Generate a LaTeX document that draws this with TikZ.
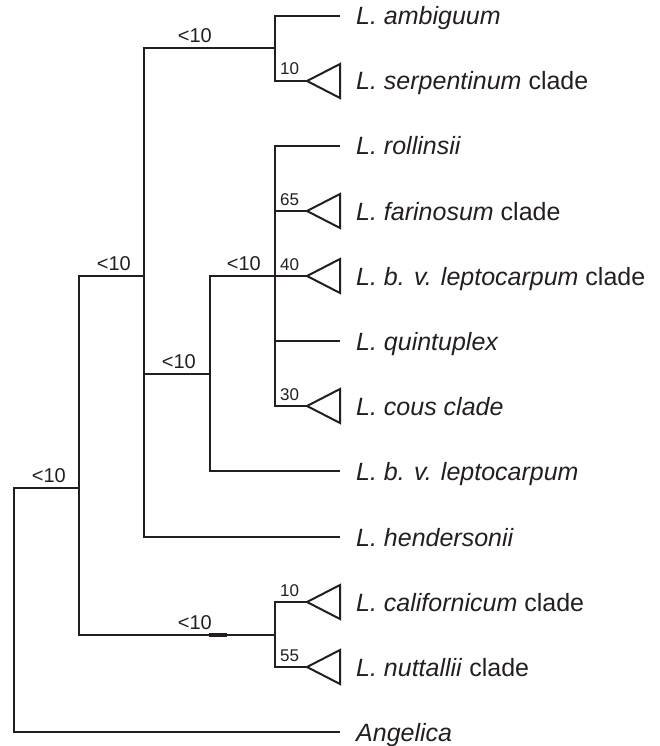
\documentclass[tikz,border=0pt]{standalone}
\usepackage{fontspec}
\setmainfont{Liberation Sans}
\definecolor{ink}{RGB}{35,31,32}
\begin{document}
\begin{tikzpicture}[x=1pt,y=-1pt,
  branch/.style={draw=ink,line width=1.8pt,line join=miter},
  clade/.style={draw=ink,line width=2pt,line join=miter},
  taxon/.style={anchor=base west,inner sep=0pt,text=ink,font=\fontsize{25}{30}\selectfont},
  boot/.style={anchor=base west,inner sep=0pt,text=ink,font=\fontsize{17}{20}\selectfont},
  lowboot/.style={anchor=base east,inner sep=0pt,text=ink,font=\fontsize{20}{24}\selectfont}]
\useasboundingbox (0,0) rectangle (660,746);

% internal nodes (point where the parent branch attaches)
\coordinate (root) at (14,610);
\coordinate (n6) at (79,488);
\coordinate (n4) at (144,276);
\coordinate (n1) at (275,48);
\coordinate (n3) at (210,374);
\coordinate (n2) at (275,276);
\coordinate (n5) at (275,635);

% terminal branch ends and clade triangle tips
\coordinate (amb) at (340,16);
\coordinate (serp) at (307,81);
\coordinate (roll) at (340,146);
\coordinate (fari) at (307,211);
\coordinate (bvlc) at (307,276);
\coordinate (quin) at (340,341);
\coordinate (cous) at (307,406);
\coordinate (bvl) at (340,471);
\coordinate (hend) at (340,537);
\coordinate (cali) at (307,602);
\coordinate (nutt) at (307,667);
\coordinate (ange) at (340,732);

% branches
\draw[branch] (root) |- (n6);
\draw[branch] (root) |- (ange);
\draw[branch] (n6) |- (n4);
\draw[branch] (n6) |- (n5);
\draw[branch] (n4) |- (n1);
\draw[branch] (n4) |- (n3);
\draw[branch] (n4) |- (hend);
\draw[branch] (n1) |- (amb);
\draw[branch] (n1) |- (serp);
\draw[branch] (n3) |- (n2);
\draw[branch] (n3) |- (bvl);
\draw[branch] (n2) |- (roll);
\draw[branch] (n2) |- (fari);
\draw[branch] (n2) -- (bvlc);
\draw[branch] (n2) |- (quin);
\draw[branch] (n2) |- (cous);
\draw[branch] (n5) |- (cali);
\draw[branch] (n5) |- (nutt);

% short heavy mark on the californicum/nuttallii stem
\coordinate (markA) at (209,635);
\coordinate (markB) at (227,635);
\draw[draw=ink,line width=3.2pt] (markA) -- (markB);

% collapsed clades
\foreach \c in {serp,fari,bvlc,cous,cali,nutt}
  \draw[clade] (\c) -- ++(33,-17) -- ++(0,34) -- cycle;

% taxon names
\node[taxon] (tamb) at (356,25) {\itshape L. ambiguum};
\node[taxon] (tserp) at (356,90) {\textit{L. serpentinum} clade};
\node[taxon] (troll) at (356,155) {\itshape L. rollinsii};
\node[taxon] (tfari) at (356,220) {\textit{L. farinosum} clade};
\node[taxon] (tbvlc) at (356,285) {\textit{L. b. v. leptocarpum} clade};
\node[taxon] (tquin) at (356,350) {\itshape L. quintuplex};
\node[taxon] (tcous) at (356,415) {\itshape L. cous clade};
\node[taxon] (tbvl) at (356,480) {\itshape L. b. v. leptocarpum};
\node[taxon] (thend) at (356,546) {\itshape L. hendersonii};
\node[taxon] (tcali) at (356,611) {\textit{L. californicum} clade};
\node[taxon] (tnutt) at (356,676) {\textit{L. nuttallii} clade};
\node[taxon] (tange) at (356,741) {\itshape Angelica};

% bootstrap support on internal branches
\node[lowboot] (b1) at (212,43) {<10};
\node[lowboot] (b4) at (131,270) {<10};
\node[lowboot] (b2) at (261,270) {<10};
\node[lowboot] (b3) at (196,368) {<10};
\node[lowboot] (b6) at (66,482) {<10};
\node[lowboot] (b5) at (212,629) {<10};

% bootstrap support on collapsed clades
\node[boot] (sserp) at (280,75) {10};
\node[boot] (sfari) at (280,205) {65};
\node[boot] (sbvlc) at (280,270) {40};
\node[boot] (scous) at (280,400) {30};
\node[boot] (scali) at (280,596) {10};
\node[boot] (snutt) at (280,661) {55};
\end{tikzpicture}
\end{document}
